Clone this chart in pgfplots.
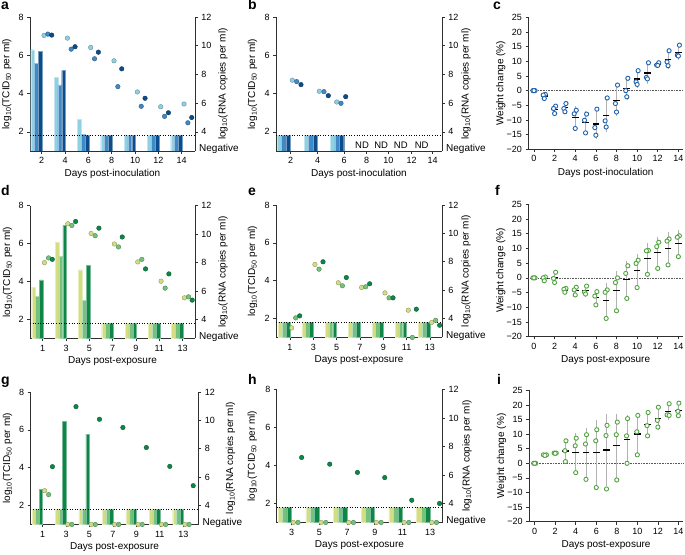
\documentclass[border=0pt]{standalone}
\usepackage{fontspec}
\setmainfont{Liberation Sans}
\usepackage{pgfplots}
\pgfplotsset{compat=1.18}

\definecolor{bL}{HTML}{8FD1E3}
\definecolor{bM}{HTML}{4088C6}
\definecolor{bD}{HTML}{0C4C8A}
\definecolor{gL}{HTML}{D3DE84}
\definecolor{gM}{HTML}{75C27E}
\definecolor{gD}{HTML}{0D8648}
\definecolor{wB}{HTML}{2063AD}
\definecolor{wG}{HTML}{52A441}
\definecolor{axc}{HTML}{303030}

\pgfplotsset{
  panel/.style={scale only axis, anchor=south west,
    axis line style={line width=0.6pt, axc},
    every tick/.style={line width=0.6pt, axc},
    tick align=outside, major tick length=2.8pt,
    /pgf/number format/assume math mode=true,
    tick label style={font=\fontsize{9}{10}\selectfont},
    label style={font=\fontsize{10}{12}\selectfont},
  },
  leftax/.style={panel, axis x line*=bottom, axis y line*=left,
    xtick pos=left, ytick pos=left, xticklabel pos=left, yticklabel pos=left,
    ymin=1, ymax=8, ytick={2,4,6,8}, clip=true,
    ylabel={log\textsubscript{10}(TCID\textsubscript{50} per ml)},
    ylabel style={at={(rel axis cs:-0.14,0.5)}, anchor=center},
    xlabel style={at={(rel axis cs:0.5,-0.17)}, anchor=center}},
  rightax/.style={panel, axis x line=none, axis y line*=right, xtick=\empty,
    ytick pos=right, yticklabel pos=right,
    ymin=2.6667, ymax=12, ytick={4,6,8,10,12}, clip=false,
    ylabel={log\textsubscript{10}(RNA copies per ml)}},
  weight/.style={panel, axis x line*=bottom, axis y line*=left,
    xtick pos=left, ytick pos=left, xticklabel pos=left, yticklabel pos=left,
    xmin=-0.55, xmax=14.45, ymin=-20, ymax=25,
    xtick={0,2,4,6,8,10,12,14}, ytick={-20,-15,-10,-5,0,5,10,15,20,25},
    yticklabels={−20,−15,−10,−5,0,5,10,15,20,25}, clip=false,
    ylabel={Weight change (\%)},
    ylabel style={at={(rel axis cs:-0.178,0.5)}, anchor=center},
    xlabel style={at={(rel axis cs:0.5,-0.18)}, anchor=center}},
  barL/.style={ybar, bar width=#1, fill=bL, draw=bL!55!white, line width=0.4pt},
  barM/.style={ybar, bar width=#1, fill=bM, draw=bM!55!white, line width=0.4pt},
  barD/.style={ybar, bar width=#1, fill=bD, draw=bD!55!white, line width=0.4pt},
  barGL/.style={ybar, bar width=#1, fill=gL, draw=gL!55!white, line width=0.4pt},
  barGM/.style={ybar, bar width=#1, fill=gM, draw=gM!55!white, line width=0.4pt},
  barGD/.style={ybar, bar width=#1, fill=gD, draw=gD!55!white, line width=0.4pt},
  dot/.style={only marks, mark=*, mark size=2.3pt, mark options={fill=#1, draw=#1!65!black, line width=0.35pt}},
  lod/.style={black, dotted, line width=0.6pt},
  meanp/.style={only marks, mark=-, mark size=3.3pt, mark options={black, line width=1.1pt},
    error bars/.cd, y dir=both, y explicit,
    error bar style={black!30, line width=0.6pt},
    error mark options={black!30, mark size=1.6pt, line width=0.6pt, rotate=0}},
  wcirc/.style={only marks, mark=*, mark size=2.1pt, mark options={draw=#1, fill=white, line width=0.9pt}},
  zline/.style={black!65, densely dotted, line width=0.6pt},
}
\newcommand{\negnode}{\node[anchor=west, xshift=4pt, yshift=2pt, inner sep=0pt, font=\fontsize{10}{12}\selectfont] at (rel axis cs:1,0) {Negative};}

\begin{document}
\begin{tikzpicture}[font=\fontsize{9}{10}\selectfont]
\path[use as bounding box] (0,0) rectangle (685pt,554pt);

\node[anchor=base west, inner sep=0pt, font=\bfseries\fontsize{14}{14}\selectfont] at (1pt,544pt) {a};
\node[anchor=base west, inner sep=0pt, font=\bfseries\fontsize{14}{14}\selectfont] at (248pt,544pt) {b};
\node[anchor=base west, inner sep=0pt, font=\bfseries\fontsize{14}{14}\selectfont] at (493pt,544pt) {c};
\node[anchor=base west, inner sep=0pt, font=\bfseries\fontsize{14}{14}\selectfont] at (1pt,358pt) {d};
\node[anchor=base west, inner sep=0pt, font=\bfseries\fontsize{14}{14}\selectfont] at (248pt,358pt) {e};
\node[anchor=base west, inner sep=0pt, font=\bfseries\fontsize{14}{14}\selectfont] at (495pt,358pt) {f};
\node[anchor=base west, inner sep=0pt, font=\bfseries\fontsize{14}{14}\selectfont] at (1pt,169pt) {g};
\node[anchor=base west, inner sep=0pt, font=\bfseries\fontsize{14}{14}\selectfont] at (248pt,169pt) {h};
\node[anchor=base west, inner sep=0pt, font=\bfseries\fontsize{14}{14}\selectfont] at (497pt,169pt) {i};

%%%%%%%%%%%%%%%% a
\begin{axis}[leftax, at={(30pt,403pt)}, width=165pt, height=134pt,
  xmin=1, xmax=15.14, xtick={2,4,6,8,10,12,14}, xlabel={Days post-inoculation}]
\addplot[barL=0.32, bar shift=-0.78] coordinates {(2,6.29) (4,4.83) (6,2.65) (8,1.8) (10,1.8) (12,1.8) (14,1.8)};
\addplot[barM=0.32, bar shift=-0.45] coordinates {(2,5.59) (4,4.45) (6,1.86) (8,1.8) (10,1.8) (12,1.8) (14,1.8)};
\addplot[barD=0.32, bar shift=-0.12] coordinates {(2,6.2) (4,5.2) (6,1.8) (8,1.8) (10,1.8) (12,1.8) (14,1.8)};
\addplot[lod] coordinates {(1,1.8) (15.14,1.8)};
\end{axis}
\begin{axis}[rightax, at={(30pt,403pt)}, width=165pt, height=134pt, xmin=1, xmax=15.14,
  ylabel style={at={(rel axis cs:1.17,0.5)}, anchor=center}]
\addplot[dot=bL] coordinates {(2.2,10.72) (4.2,10.53) (6.2,9.88) (8.2,8.95) (10.2,6.78) (12.2,5.75) (14.2,5.94)};
\addplot[dot=bM] coordinates {(2.53,10.81) (4.53,9.76) (6.53,9.09) (8.53,7.15) (10.53,5.78) (12.53,5.08) (14.53,4.63)};
\addplot[dot=bD] coordinates {(2.86,10.74) (4.86,9.93) (6.86,9.55) (8.86,8.39) (10.86,6.34) (12.86,5.33) (14.86,5.0)};
\negnode
\end{axis}

%%%%%%%%%%%%%%%% b
\begin{axis}[leftax, at={(276pt,403pt)}, width=166pt, height=134pt,
  xmin=0, xmax=166, xtick={14.7,41.7,68,90.7,112.3,135.7,156.7}, xticklabels={2,4,6,8,10,12,14},
  xlabel={Days post-inoculation}, ylabel style={at={(rel axis cs:-0.142,0.5)}, anchor=center}]
\addplot[barL=4.4] coordinates {(3.4,1.8) (30.4,1.8) (56.7,1.8)};
\addplot[barM=4.4] coordinates {(7.8,1.8) (34.8,1.8) (61.1,1.8)};
\addplot[barD=4.4] coordinates {(12.2,1.8) (39.2,1.8) (65.5,1.8)};
\addplot[lod] coordinates {(0,1.8) (166,1.8)};
\node[font=\fontsize{9.5}{10}\selectfont] at (axis cs:86,1.31) {ND};
\node[font=\fontsize{9.5}{10}\selectfont] at (axis cs:105.2,1.31) {ND};
\node[font=\fontsize{9.5}{10}\selectfont] at (axis cs:124.8,1.31) {ND};
\node[font=\fontsize{9.5}{10}\selectfont] at (axis cs:145.7,1.31) {ND};
\end{axis}
\begin{axis}[rightax, at={(276pt,403pt)}, width=166pt, height=134pt, xmin=0, xmax=166,
  ylabel style={at={(rel axis cs:1.145,0.5)}, anchor=center}]
\addplot[dot=bL] coordinates {(16.3,7.6) (43.3,6.83) (60.7,6.08)};
\addplot[dot=bM] coordinates {(20.7,7.5) (48,6.8) (65,5.99)};
\addplot[dot=bD] coordinates {(25,7.29) (52.3,6.52) (69.7,6.45)};
\negnode
\end{axis}

%%%%%%%%%%%%%%%% c
\begin{axis}[weight, at={(528.3pt,404.7pt)}, width=154.7pt, height=132pt, xlabel={Days post-inoculation}]
\addplot[zline] coordinates {(-0.55,0) (14.45,0)};
\addplot[meanp] coordinates {(0,0) +- (0,0) (1,-1.83) +- (0,0.76) (2,-6.4) +- (0,1.28) (3,-5.9) +- (0,1.41) (4,-9.17) +- (0,3.29) (5,-10.83) +- (0,3.26) (6,-11.37) +- (0,4.58) (7,-8.4) +- (0,5.2) (8,-3.27) +- (0,4.7) (9,0.7) +- (0,3.2) (10,3.97) +- (0,2.5) (11,6.0) +- (0,3.04) (12,8.93) +- (0,0.49) (13,10.63) +- (0,2.65) (14,13.13) +- (0,2.05)};
\addplot[wcirc=wB] coordinates {(0.1,0) (1.1,-1.3) (2.1,-5.3) (3.1,-4.4) (4.1,-6.7) (5.1,-8.0) (6.1,-6.3) (7.1,-2.5) (8.1,1.9) (9.1,4.2) (10.1,6.8) (11.1,9.5) (12.1,9.5) (13.1,13.6) (14.1,15.5)};
\addplot[wcirc=wB] coordinates {(-0.1,0) (0.9,-1.5) (1.9,-6.1) (2.9,-6.1) (3.9,-7.9) (4.9,-10.1) (5.9,-12.6) (6.9,-10.3) (7.9,-4.4) (8.9,0) (9.9,3.0) (10.9,4.5) (11.9,8.7) (12.9,9.8) (13.9,12.1)};
\addplot[wcirc=wB] coordinates {(0,0) (1,-2.7) (2,-7.8) (3,-7.2) (4,-12.9) (5,-14.4) (6,-15.2) (7,-12.4) (8,-7.3) (9,-2.1) (10,2.1) (11,4.0) (12,8.6) (13,8.5) (14,11.8)};
\end{axis}

%%%%%%%%%%%%%%%% d
\begin{axis}[leftax, at={(30pt,215.5pt)}, width=165pt, height=133pt,
  xmin=-0.09, xmax=14.06, xtick={1,3,5,7,9,11,13}, xlabel={Days post-exposure},
  ylabel style={at={(rel axis cs:-0.136,0.5)}, anchor=center}]
\addplot[barGL=0.32, bar shift=-0.78] coordinates {(1,3.71) (3,6.08) (5,4.62) (7,1.8) (9,1.8) (11,1.8) (13,1.8)};
\addplot[barGM=0.32, bar shift=-0.45] coordinates {(1,3.22) (3,5.32) (5,3.0) (7,1.8) (9,1.8) (11,1.8) (13,1.8)};
\addplot[barGD=0.32, bar shift=-0.12] coordinates {(1,4.08) (3,6.95) (5,4.85) (7,1.8) (9,1.8) (11,1.8) (13,1.8)};
\addplot[lod] coordinates {(-0.09,1.8) (14.06,1.8)};
\end{axis}
\begin{axis}[rightax, at={(30pt,215.5pt)}, width=165pt, height=133pt, xmin=-0.09, xmax=14.06,
  ylabel style={at={(rel axis cs:1.17,0.5)}, anchor=center}]
\addplot[dot=gL] coordinates {(1.15,7.99) (3.15,10.72) (5.15,10.04) (7.15,9.3) (9.15,8.04) (11.15,6.69) (13.15,5.52)};
\addplot[dot=gM] coordinates {(1.5,8.32) (3.5,10.6) (5.5,9.88) (7.5,9.09) (9.5,8.22) (11.5,6.2) (13.5,5.59)};
\addplot[dot=gD] coordinates {(1.82,8.22) (3.82,10.88) (5.82,10.41) (7.82,9.79) (9.82,7.55) (11.82,7.2) (13.82,5.36)};
\negnode
\end{axis}

%%%%%%%%%%%%%%%% e
\begin{axis}[leftax, at={(276pt,216.5pt)}, width=166pt, height=132.5pt,
  xmin=-0.2, xmax=14.03, xtick={1,3,5,7,9,11,13}, xlabel={Days post-exposure},
  ylabel style={at={(rel axis cs:-0.142,0.5)}, anchor=center}]
\addplot[barGL=0.32, bar shift=-0.83] coordinates {(1,1.8) (3,1.8) (5,1.8) (7,1.8) (9,1.8) (11,1.8) (13,1.8)};
\addplot[barGM=0.32, bar shift=-0.5] coordinates {(1,1.8) (3,1.8) (5,1.8) (7,1.8) (9,1.8) (11,1.8) (13,1.8)};
\addplot[barGD=0.32, bar shift=-0.17] coordinates {(1,1.8) (3,1.8) (5,1.8) (7,1.8) (9,1.8) (11,1.8) (13,1.8)};
\addplot[lod] coordinates {(-0.2,1.8) (14.03,1.8)};
\end{axis}
\begin{axis}[rightax, at={(276pt,216.5pt)}, width=166pt, height=132.5pt, xmin=-0.2, xmax=14.03,
  ylabel style={at={(rel axis cs:1.145,0.5)}, anchor=center}]
\addplot[dot=gL] coordinates {(1.14,3.34) (3.14,7.81) (5.14,6.52) (7.14,6.19) (9.14,5.81) (11.14,4.59) (13.14,3.72)};
\addplot[dot=gM] coordinates {(1.49,4.05) (3.49,7.48) (5.49,6.31) (7.49,6.24) (9.49,5.46) (11.49,2.67) (13.49,3.88)};
\addplot[dot=gD] coordinates {(1.83,4.19) (3.83,8.0) (5.83,6.89) (7.83,6.45) (9.83,5.46) (11.83,4.66) (13.83,3.53)};
\negnode
\end{axis}

%%%%%%%%%%%%%%%% f
\begin{axis}[weight, at={(528.3pt,217.3pt)}, width=154.7pt, height=132.4pt, xlabel={Days post-exposure}]
\addplot[zline] coordinates {(-0.55,0) (14.45,0)};
\addplot[meanp] coordinates {(0,0) +- (0,0) (1,-0.23) +- (0,0.68) (2,0.03) +- (0,1.76) (3,-4.13) +- (0,0.68) (4,-4.37) +- (0,1.32) (5,-4.4) +- (0,1.42) (6,-6.7) +- (0,2.29) (7,-7.6) +- (0,5.38) (8,-4.27) +- (0,6.06) (9,-0.47) +- (0,5.8) (10,2.53) +- (0,5.08) (11,6.57) +- (0,4.65) (12,8.63) +- (0,4.76) (13,10.03) +- (0,4.89) (14,11.77) +- (0,3.96)};
\addplot[wcirc=wG] coordinates {(0.1,0) (1.1,0.3) (2.1,1.9) (3.1,-3.6) (4.1,-3.2) (5.1,-2.8) (6.1,-4.7) (7.1,-4.1) (8.1,0) (9.1,4.1) (10.1,6.0) (11.1,9.3) (12.1,12.1) (13.1,13.2) (14.1,14.3)};
\addplot[wcirc=wG] coordinates {(-0.1,0) (0.9,0) (1.9,-0.2) (2.9,-3.9) (3.9,-4.1) (4.9,-4.9) (5.9,-6.2) (6.9,-4.9) (7.9,-1.6) (8.9,1.5) (9.9,4.9) (10.9,9.2) (11.9,10.6) (12.9,12.5) (13.9,13.8)};
\addplot[wcirc=wG] coordinates {(0,0) (1,-1.0) (2,-1.6) (3,-4.9) (4,-5.8) (5,-5.5) (6,-9.2) (7,-13.8) (8,-11.2) (9,-7.0) (10,-3.3) (11,1.2) (12,3.2) (13,4.4) (14,7.2)};
\end{axis}

%%%%%%%%%%%%%%%% g
\begin{axis}[leftax, at={(30.5pt,29.5pt)}, width=168pt, height=132.5pt,
  xmin=-0.03, xmax=14.3, xtick={1,3,5,7,9,11,13}, xlabel={Days post-exposure},
  ylabel style={at={(rel axis cs:-0.137,0.5)}, anchor=center}]
\addplot[barGL=0.3, bar shift=-0.75] coordinates {(1,1.8) (3,1.8) (5,1.8) (7,1.8) (9,1.8) (11,1.8) (13,1.8)};
\addplot[barGM=0.3, bar shift=-0.45] coordinates {(1,1.8) (3,1.8) (5,1.8) (7,1.8) (9,1.8) (11,1.8) (13,1.8)};
\addplot[barGD=0.3, bar shift=-0.15] coordinates {(1,2.85) (3,6.45) (5,5.78) (7,1.8) (9,1.8) (11,1.8) (13,1.8)};
\addplot[lod] coordinates {(-0.03,1.8) (14.3,1.8)};
\end{axis}
\begin{axis}[rightax, at={(30.5pt,29.5pt)}, width=168pt, height=132.5pt, xmin=-0.03, xmax=14.3,
  ylabel style={at={(rel axis cs:1.19,0.5)}, anchor=center}]
\addplot[dot=gL] coordinates {(1.18,5.05) (3.15,2.67) (5.15,2.67) (7.15,2.67) (9.15,2.67) (11.15,2.67) (13.15,2.67)};
\addplot[dot=gM] coordinates {(1.52,4.77) (3.5,2.67) (5.5,2.67) (7.5,2.67) (9.5,2.67) (11.5,2.67) (13.5,2.67)};
\addplot[dot=gD] coordinates {(1.84,6.74) (3.85,10.97) (5.85,10.08) (7.85,9.5) (9.85,8.09) (11.85,6.76) (13.85,5.4)};
\negnode
\end{axis}

%%%%%%%%%%%%%%%% h
\begin{axis}[leftax, at={(276.7pt,31.5pt)}, width=165.5pt, height=133pt,
  xmin=1.92, xmax=13.87, xtick={3,5,7,9,11,13}, xlabel={Days post-exposure},
  ylabel style={at={(rel axis cs:-0.147,0.5)}, anchor=center}]
\addplot[barGL=0.32, bar shift=-0.82] coordinates {(3,1.8) (5,1.8) (7,1.8) (9,1.8) (11,1.8) (13,1.8)};
\addplot[barGM=0.32, bar shift=-0.5] coordinates {(3,1.8) (5,1.8) (7,1.8) (9,1.8) (11,1.8) (13,1.8)};
\addplot[barGD=0.32, bar shift=-0.18] coordinates {(3,1.8) (5,1.8) (7,1.8) (9,1.8) (11,1.8) (13,1.8)};
\addplot[lod] coordinates {(1.92,1.8) (13.87,1.8)};
\end{axis}
\begin{axis}[rightax, at={(276.7pt,31.5pt)}, width=165.5pt, height=133pt, xmin=1.92, xmax=13.87,
  ylabel style={at={(rel axis cs:1.15,0.5)}, anchor=center}]
\addplot[dot=gL] coordinates {(3.12,2.67) (5.12,2.67) (7.12,2.67) (9.12,2.67) (11.12,2.67) (13.12,2.67)};
\addplot[dot=gM] coordinates {(3.46,2.67) (5.46,2.67) (7.46,2.67) (9.46,2.67) (11.46,2.67) (13.46,2.67)};
\addplot[dot=gD] coordinates {(3.72,7.23) (5.75,6.76) (7.75,6.18) (9.72,5.82) (11.67,4.23) (13.68,4.0)};
\negnode
\end{axis}

%%%%%%%%%%%%%%%% i
\begin{axis}[weight, at={(529pt,32.3pt)}, width=154pt, height=131.4pt, xlabel={Days post-exposure}]
\addplot[zline] coordinates {(-0.55,0) (14.45,0)};
\addplot[meanp] coordinates {(0,0) +- (0,0) (1,2.83) +- (0,0.12) (2,3.47) +- (0,0.06) (3,4.2) +- (0,3.55) (4,3.8) +- (0,6.2) (5,3.63) +- (0,8.07) (6,3.63) +- (0,10.5) (7,4.57) +- (0,11.7) (8,6.07) +- (0,10.4) (9,8.23) +- (0,7.7) (10,10.03) +- (0,6.78) (11,13.23) +- (0,4.0) (12,15.43) +- (0,3.46) (13,17.8) +- (0,2.26) (14,18.23) +- (0,2.18)};
\addplot[wcirc=wG] coordinates {(0.1,0) (1.15,2.9) (2.1,3.5) (3.05,7.7) (4.05,8.6) (5.05,9.8) (6.05,11.5) (7.05,13.0) (8.05,14.1) (9.05,15.3) (10.05,16.4) (11.05,17.4) (12.05,19.2) (13.1,20.4) (14.05,20.6)};
\addplot[wcirc=wG] coordinates {(-0.1,0) (0.85,2.9) (1.9,3.5) (2.95,4.3) (3.95,6.0) (4.95,6.6) (5.95,7.7) (6.95,9.5) (7.95,9.8) (8.95,9.4) (9.95,10.8) (10.95,12.9) (11.95,14.7) (12.9,16.6) (13.95,17.8)};
\addplot[wcirc=wG] coordinates {(0,0) (1,2.7) (2,3.4) (3,0.6) (4,-3.2) (5,-5.5) (6,-8.3) (7,-8.8) (8,-5.7) (9,0) (10,2.9) (11,9.4) (12,12.4) (13.1,16.4) (14,16.3)};
\end{axis}

\end{tikzpicture}
\end{document}
